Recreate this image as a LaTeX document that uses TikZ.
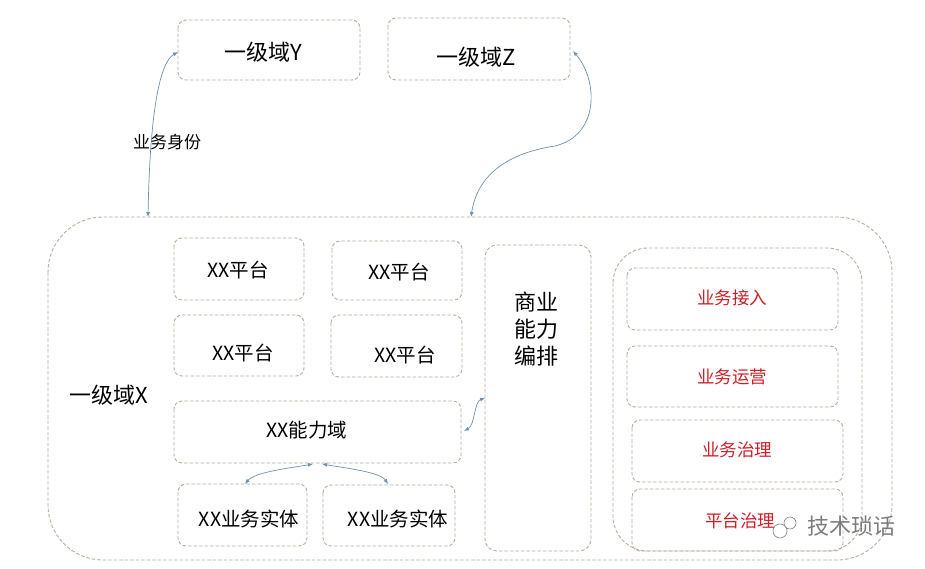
\documentclass[tikz,border=0pt]{standalone}
\usepackage{fontspec}
\setmainfont{Noto Sans CJK SC}
\usetikzlibrary{arrows.meta}
\definecolor{boxline}{RGB}{186,172,160}
\definecolor{arrowc}{RGB}{110,145,175}
\definecolor{redtxt}{RGB}{205,30,40}
\definecolor{wm}{RGB}{125,125,125}
\tikzset{
  dbox/.style={draw=boxline, dash pattern=on 3.5pt off 2pt, line width=0.9pt, rounded corners=8pt, inner sep=0pt},
  lbl/.style={font=\fontsize{19.5}{22}\selectfont},
  biglbl/.style={font=\fontsize{22}{24}\selectfont},
  redlbl/.style={text=redtxt, font=\fontsize{17.5}{20}\selectfont},
  conn/.style={draw=arrowc, line width=0.7pt, {Latex[length=5pt,width=4pt]}-{Latex[length=5pt,width=4pt]}}
}
\begin{document}
\begin{tikzpicture}[x=1pt,y=-1pt]
\useasboundingbox (0,0) rectangle (925,568);
\fill[white] (0,0) rectangle (925,568);
% outer domain X
\draw[dbox, rounded corners=55pt] (48,217) rectangle (892,560);
\coordinate (xtopL) at (148,217);
\coordinate (xtopR) at (471,217);
\node[biglbl] (dx) at (109,395) {一级域X};
% top domains
\draw[dbox] (178,20) rectangle (360,80);
\node[biglbl] (ylab) at (263,52) {一级域Y};
\coordinate (yL) at (178,52);
\draw[dbox] (388,18) rectangle (570,80);
\node[biglbl] (zlab) at (476,57) {一级域Z};
\coordinate (zR) at (573,51);
\coordinate (zmid) at (555,146);
\node[font=\fontsize{17}{19}\selectfont] (sf) at (167,142) {业务身份};
% platforms
\draw[dbox] (174,238) rectangle (304,300);
\node[lbl] (p1) at (238,270) {XX平台};
\draw[dbox] (332,241) rectangle (462,300);
\node[lbl] (p2) at (399,272) {XX平台};
\draw[dbox] (174,315) rectangle (304,376);
\node[lbl] (p3) at (243,353) {XX平台};
\draw[dbox] (331,315) rectangle (462,377);
\node[lbl] (p4) at (405,355) {XX平台};
% capability domain
\draw[dbox] (174,401) rectangle (461,463);
\node[lbl] (cap) at (307,430) {XX能力域};
\coordinate (capR) at (464,431);
\coordinate (capB1) at (313,464);
\coordinate (capB2) at (322,464);
% entities
\draw[dbox] (178,484) rectangle (307,546);
\node[lbl] (e1) at (249,519) {XX业务实体};
\coordinate (e1T) at (245,484);
\draw[dbox] (323,485) rectangle (455,546);
\node[lbl] (e2) at (398,519) {XX业务实体};
\coordinate (e2T) at (388,484);
% orchestration
\draw[dbox, rounded corners=12pt] (485,245) rectangle (591,551);
\node[font=\fontsize{22}{27}\selectfont, align=left] (orch) at (536,329) {商业\\能力\\编排};
\coordinate (orchL) at (485,398);
% right container
\draw[dbox, rounded corners=35pt] (613,248) rectangle (862,551);
\draw[dbox] (627,268) rectangle (838,330);
\node[redlbl] (r1) at (732,298) {业务接入};
\draw[dbox] (627,346) rectangle (838,407);
\node[redlbl] (r2) at (732,377) {业务运营};
\draw[dbox] (632,420) rectangle (843,482);
\node[redlbl] (r3) at (737,450) {业务治理};
\draw[dbox] (632,489) rectangle (843,551);
\node[redlbl] (r4) at (740,521) {平台治理};
% watermark
\node[text=wm, font=\fontsize{22}{24}\selectfont, inner sep=1pt] (wmk) at (851,526) {技术琐话};
\draw[wm, line width=0.6pt, fill=white, fill opacity=0.7] (790,523) circle (6pt);
\draw[wm, line width=0.6pt, fill=white, fill opacity=0.7] (780,531) circle (7pt);
% connectors
\draw[conn] (xtopL) .. controls (150,110) and (160,62) .. (yL);
\draw[conn] (xtopR) .. controls (478,170) and (515,152) .. (zmid) .. controls (600,135) and (598,80) .. (zR);
\draw[conn] (capR) .. controls (475,425) and (474,402) .. (orchL);
\draw[conn] (capB1) .. controls (290,468) and (255,472) .. (e1T);
\draw[conn] (capB2) .. controls (345,468) and (380,472) .. (e2T);
\end{tikzpicture}
\end{document}
